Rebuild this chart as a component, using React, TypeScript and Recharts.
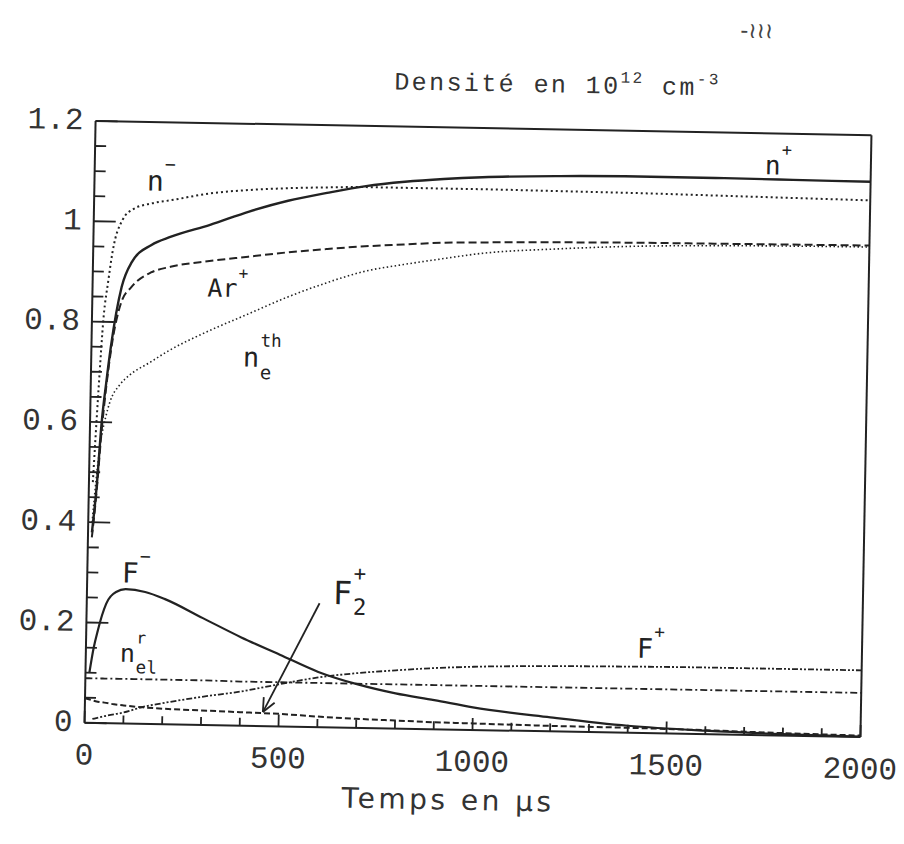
import React from 'react'
import { LineChart, Line, XAxis, YAxis, ReferenceLine, ReferenceDot } from 'recharts'

// time in µs, densities in 10^12 cm^-3
const times = [0, 10, 20, 30, 40, 50, 75, 100, 150, 200, 300, 400, 500, 600, 700, 800, 900, 1000, 1200, 1400, 1600, 1800, 2000]

const nPlus = [null, 0.38, 0.47, 0.6, 0.68, 0.75, 0.87, 0.92, 0.955, 0.972, 0.997, 1.025, 1.048, 1.065, 1.08, 1.09, 1.097, 1.102, 1.107, 1.109, 1.109, 1.108, 1.107]
const nMinus = [null, 0.48, 0.66, 0.81, 0.88, 0.94, 1.005, 1.025, 1.038, 1.045, 1.06, 1.068, 1.073, 1.076, 1.078, 1.078, 1.078, 1.078, 1.077, 1.076, 1.074, 1.072, 1.07]
const arPlus = [null, 0.37, 0.46, 0.58, 0.67, 0.74, 0.84, 0.87, 0.9, 0.912, 0.925, 0.935, 0.945, 0.953, 0.96, 0.965, 0.97, 0.972, 0.975, 0.977, 0.978, 0.979, 0.98]
const neTh = [null, 0.4, 0.5, 0.57, 0.61, 0.64, 0.675, 0.695, 0.72, 0.745, 0.785, 0.82, 0.855, 0.885, 0.91, 0.925, 0.938, 0.95, 0.962, 0.97, 0.974, 0.976, 0.977]
const fMinus = [null, 0.1, 0.15, 0.185, 0.215, 0.238, 0.262, 0.268, 0.263, 0.25, 0.213, 0.176, 0.143, 0.11, 0.087, 0.07, 0.058, 0.045, 0.028, 0.014, 0.007, 0.003, 0.001]
const fPlus = [null, null, 0.008, 0.01, 0.012, 0.014, 0.018, 0.022, 0.034, 0.042, 0.056, 0.068, 0.084, 0.099, 0.109, 0.116, 0.122, 0.126, 0.13, 0.132, 0.133, 0.133, 0.133]
const nElR = [0.089, 0.089, 0.089, 0.089, 0.089, 0.089, 0.089, 0.089, 0.089, 0.089, 0.089, 0.088, 0.088, 0.088, 0.088, 0.088, 0.088, 0.088, 0.088, 0.088, 0.088, 0.088, 0.088]
const f2Plus = [0.049, 0.047, 0.045, 0.043, 0.042, 0.041, 0.038, 0.036, 0.033, 0.031, 0.029, 0.027, 0.025, 0.021, 0.018, 0.016, 0.014, 0.013, 0.011, 0.01, 0.008, 0.005, 0.003]

const xTicks = [0, 100, 200, 300, 400, 500, 600, 700, 800, 900, 1000, 1100, 1200, 1300, 1400, 1500, 1600, 1700, 1800, 1900, 2000]
const yTicks = [0, 0.05, 0.1, 0.15, 0.2, 0.25, 0.3, 0.35, 0.4, 0.45, 0.5, 0.55, 0.6, 0.65, 0.7, 0.75, 0.8, 0.85, 0.9, 0.95, 1, 1.05, 1.1, 1.15, 1.2]

// curve annotations, placed in data coordinates
const tags = [
  { t: 135, v: 1.082, base: 'n', sup: '−', size: 28 },
  { t: 1727, v: 1.136, base: 'n', sup: '+', size: 26 },
  { t: 296, v: 0.871, base: 'Ar', sup: '+', size: 25 },
  { t: 391, v: 0.735, base: 'n', sup: 'th', sub: 'e', size: 27 },
  { t: 89, v: 0.3, base: 'F', sup: '−', size: 28 },
  { t: 634, v: 0.268, base: 'F', sup: '+', sub: '2', size: 32 },
  { t: 88, v: 0.14, base: 'n', sup: 'r', sub: 'el', size: 25 },
  { t: 1420, v: 0.169, base: 'F', sup: '+', size: 27 },
]
const arrowFrom = { x: 600, y: 0.247 }
const arrowTo = { x: 459, y: 0.028 }

const data = times.map((t, i) => ({
  t,
  nPlus: nPlus[i],
  nMinus: nMinus[i],
  arPlus: arPlus[i],
  neTh: neTh[i],
  fMinus: fMinus[i],
  fPlus: fPlus[i],
  nElR: nElR[i],
  f2Plus: f2Plus[i],
}))

const INK = '#222'
const TICK_FONT = { fontFamily: '"Liberation Mono", monospace', fontSize: 31, fill: '#333' }

const YTick = (props: any) => {
  const { x, y, payload } = props
  const v = payload.value
  const major = Math.abs(v * 5 - Math.round(v * 5)) < 1e-6
  return (
    <g>
      <line x1={x} y1={y} x2={x + (major ? 22 : 11)} y2={y} stroke={INK} strokeWidth={1.8} />
      {major && (
        <text x={x - 12} y={y} textAnchor="end" dominantBaseline="central" {...TICK_FONT}>
          {String(Number(v.toFixed(1)))}
        </text>
      )}
    </g>
  )
}

const XTick = (props: any) => {
  const { x, y, payload } = props
  const v = payload.value
  const major = v % 500 === 0
  return (
    <g>
      <line x1={x} y1={y} x2={x} y2={y - (major ? 12 : 8)} stroke={INK} strokeWidth={1.8} />
      {major && (
        <text x={x} y={y + 33} textAnchor="middle" dominantBaseline="central" {...TICK_FONT}>
          {v}
        </text>
      )}
    </g>
  )
}

const tagShape = (tag: any) => (props: any) => {
  const { cx, cy } = props
  const s = tag.size
  const w = tag.base.length * s * 0.6
  const subDy = tag.base === 'F' ? 0.42 : 0.55
  return (
    <g fontFamily='"DejaVu Sans Mono", monospace' fill={INK}>
      <text x={cx} y={cy} fontSize={s} dominantBaseline="central">{tag.base}</text>
      {tag.sup && (
        <text x={cx + w + 1} y={cy - s * 0.62} fontSize={s * 0.65} dominantBaseline="central">{tag.sup}</text>
      )}
      {tag.sub && (
        <text x={cx + w + 1} y={cy + s * subDy} fontSize={s * 0.7} dominantBaseline="central">{tag.sub}</text>
      )}
    </g>
  )
}

const Arrow = (props: any) => {
  const { x1, y1, x2, y2 } = props
  const a = Math.atan2(y2 - y1, x2 - x1)
  const L = 15
  const k = 0.42
  return (
    <g stroke={INK} strokeWidth={1.8} fill="none">
      <line x1={x1} y1={y1} x2={x2} y2={y2} />
      <line x1={x2} y1={y2} x2={x2 - L * Math.cos(a - k)} y2={y2 - L * Math.sin(a - k)} />
      <line x1={x2} y1={y2} x2={x2 - L * Math.cos(a + k)} y2={y2 - L * Math.sin(a + k)} />
    </g>
  )
}

const series = [
  { key: 'nPlus', dash: undefined, width: 2.4 },
  { key: 'nMinus', dash: '2 3', width: 2 },
  { key: 'arPlus', dash: '8 4', width: 2 },
  { key: 'neTh', dash: '1.5 2.5', width: 1.6 },
  { key: 'fMinus', dash: undefined, width: 2.2 },
  { key: 'fPlus', dash: '6 2 2 2 2 2', width: 1.8 },
  { key: 'nElR', dash: '7 3 2 3', width: 1.8 },
  { key: 'f2Plus', dash: '6 3', width: 2 },
]

export default function App() {
  return (
    <div
      style={{
        position: 'absolute',
        left: 0,
        top: 0,
        width: 904,
        height: 844,
        background: '#fff',
        transform: 'rotate(1.05deg)',
        transformOrigin: '478px 429px',
      }}
    >
      <LineChart width={904} height={844} data={data} margin={{ top: 128, right: 38, bottom: 54, left: 10 }}>
        <XAxis
          dataKey="t"
          type="number"
          domain={[0, 2000]}
          ticks={xTicks}
          interval={0}
          height={60}
          tickSize={0}
          tickMargin={0}
          tickLine={false}
          tick={<XTick />}
          axisLine={{ stroke: INK, strokeWidth: 2 }}
        />
        <YAxis
          type="number"
          domain={[0, 1.2]}
          ticks={yTicks}
          interval={0}
          width={80}
          tickSize={0}
          tickMargin={0}
          tickLine={false}
          tick={<YTick />}
          axisLine={{ stroke: INK, strokeWidth: 2 }}
        />
        <ReferenceLine y={1.2} stroke={INK} strokeWidth={2} />
        <ReferenceLine x={2000} stroke={INK} strokeWidth={2} />
        {series.map(s => (
          <Line
            key={s.key}
            dataKey={s.key}
            type="monotone"
            stroke={INK}
            strokeWidth={s.width}
            strokeDasharray={s.dash}
            dot={false}
            activeDot={false}
            isAnimationActive={false}
          />
        ))}
        <ReferenceLine segment={[arrowFrom, arrowTo]} shape={Arrow} />
        {tags.map((tag, i) => (
          <ReferenceDot key={i} x={tag.t} y={tag.v} r={0} shape={tagShape(tag)} />
        ))}
      </LineChart>
      <svg width={904} height={844} style={{ position: 'absolute', left: 0, top: 0, pointerEvents: 'none' }}>
        <text x={388} y={91} fontFamily='"Liberation Mono", monospace' fontSize={25} letterSpacing={2.4} fill="#333">
          Densité en 10
          <tspan fontSize={16} dy={-11}>12</tspan>
          <tspan dy={11}> cm</tspan>
          <tspan fontSize={16} dy={-11}>-3</tspan>
        </text>
        <text x={455} y={810} textAnchor="middle" fontFamily='"DejaVu Sans", sans-serif' fontSize={28} letterSpacing={3.5} fill="#333">
          Temps en µs
        </text>
        <text x={733} y={33} fontFamily='"DejaVu Sans", sans-serif' fontSize={22} fill="#444">
          -≀≀≀
        </text>
      </svg>
    </div>
  )
}
